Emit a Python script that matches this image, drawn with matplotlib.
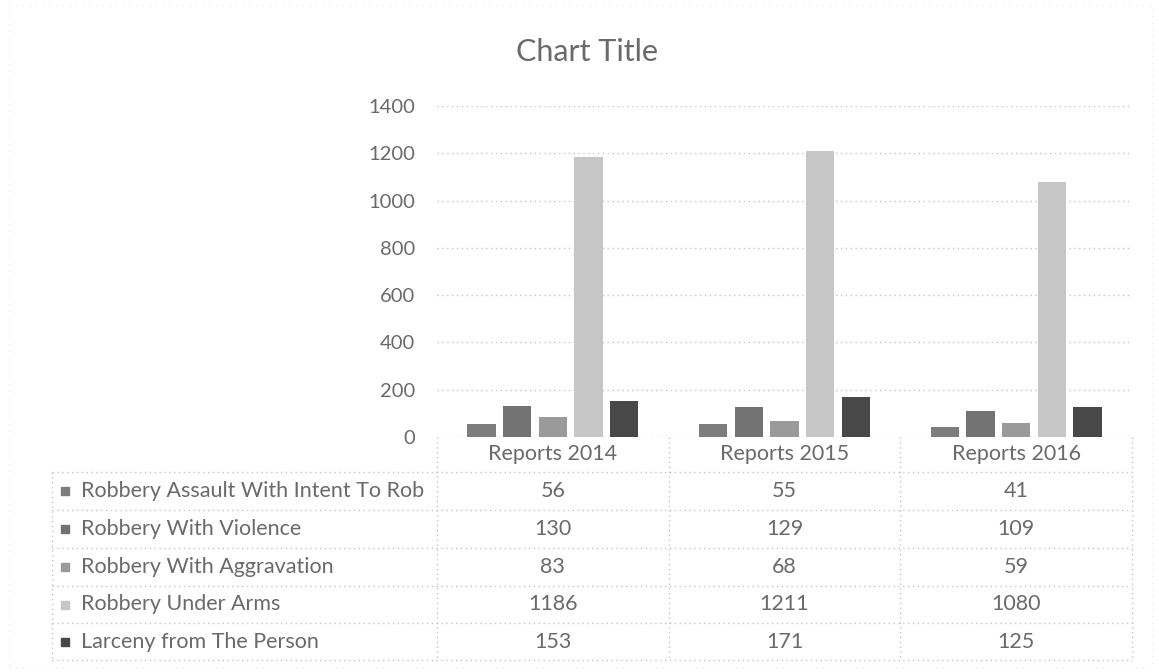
import matplotlib
matplotlib.use("Agg")
import matplotlib.pyplot as plt
from matplotlib.lines import Line2D
from matplotlib.patches import Rectangle
import matplotlib.transforms as mtransforms
import numpy as np

plt.rcParams['font.family'] = ['Lato', 'DejaVu Sans']

categories = ["Reports 2014", "Reports 2015", "Reports 2016"]
series_names = ["Robbery Assault With Intent To Rob", "Robbery With Violence",
                "Robbery With Aggravation", "Robbery Under Arms",
                "Larceny from The Person"]
assault = [56, 55, 41]
violence = [130, 129, 109]
aggravation = [83, 68, 59]
under_arms = [1186, 1211, 1080]
larceny = [153, 171, 125]
series_values = [assault, violence, aggravation, under_arms, larceny]
y_ticks = [0, 200, 400, 600, 800, 1000, 1200, 1400]

colors = ['#7d7d7d', '#727272', '#9a9a9a', '#c6c6c6', '#484848']
text_color = '#6a6a6a'
line_color = '#c4c4c4'
fs_tick = 14.5
fs = 15.5

W, H = 1159, 672
fig = plt.figure(figsize=(W / 100, H / 100), dpi=100)
fig.patch.set_facecolor('white')

def fx(x):
    return x / W

def fy(y):
    return 1 - y / H

ax_left, ax_right, ax_top, ax_bottom = 437, 1132, 106, 437
ax = fig.add_axes([fx(ax_left), fy(ax_bottom), (ax_right - ax_left) / W, (ax_bottom - ax_top) / H])

x = np.arange(len(categories))
pitch = 0.154
bw = 0.122
for i, (vals, c) in enumerate(zip(series_values, colors)):
    ax.bar(x + (i - 2) * pitch, vals, width=bw, color=c, zorder=3)

ax.set_xlim(-0.5, len(categories) - 0.5)
ax.set_ylim(0, 1400)
ax.set_yticks(y_ticks)
ax.set_yticklabels([str(t) for t in y_ticks])
ax.set_xticks([])
ax.tick_params(axis='y', length=0, pad=16, labelsize=fs_tick, labelcolor=text_color)
for s in ax.spines.values():
    s.set_visible(False)
ax.yaxis.grid(True, linestyle=(0, (1, 2.5)), color=line_color, linewidth=1.0, zorder=0)
ax.set_facecolor('none')

# Title
fig.text(fx(587), fy(52), "Chart Title", ha='center', va='center', fontsize=22,
         color=text_color)

# Data table lines
def hline(y, x0, x1):
    fig.add_artist(Line2D([fx(x0), fx(x1)], [fy(y), fy(y)], color=line_color,
                          linestyle=(0, (1, 2.5)), linewidth=1.0))

def vline(x0, y0, y1):
    fig.add_artist(Line2D([fx(x0), fx(x0)], [fy(y0), fy(y1)], color=line_color,
                          linestyle=(0, (1, 2.5)), linewidth=1.0))

row_lines = [472, 510, 548, 586, 623, 660]
table_left = 52
for y in row_lines:
    hline(y, table_left, ax_right)
vline(table_left, 472, 660)
cat_w = (ax_right - ax_left) / len(categories)
for k in range(len(categories) + 1):
    vline(ax_left + k * cat_w, ax_bottom, 660)

# Header text & values (x from data coords, y in figure coords)
trans = mtransforms.blended_transform_factory(ax.transData, fig.transFigure)
header_y = (ax_bottom + 472) / 2
for xi, cat in zip(x, categories):
    fig.text(xi, fy(header_y), cat, transform=trans, ha='center', va='center',
             fontsize=fs, color=text_color)
for r, (name, vals, c) in enumerate(zip(series_names, series_values, colors)):
    yc = (row_lines[r] + row_lines[r + 1]) / 2
    for xi, v in zip(x, vals):
        fig.text(xi, fy(yc), str(v), transform=trans, ha='center', va='center',
                 fontsize=fs, color=text_color)
    fig.add_artist(Rectangle((fx(61), fy(yc + 4)), 8 / W, 8 / H, color=c,
                             transform=fig.transFigure))
    fig.text(fx(81), fy(yc), name, ha='left', va='center', fontsize=fs,
             color=text_color)

# Faint chart-area border
fig.add_artist(Rectangle((fx(9), fy(667)), (1152 - 9) / W, (667 - 5) / H, fill=False,
                         edgecolor='#e6e6e6', linestyle=(0, (1, 5)), linewidth=0.8,
                         transform=fig.transFigure))

fig.savefig("out.png", dpi=100, facecolor='white')
